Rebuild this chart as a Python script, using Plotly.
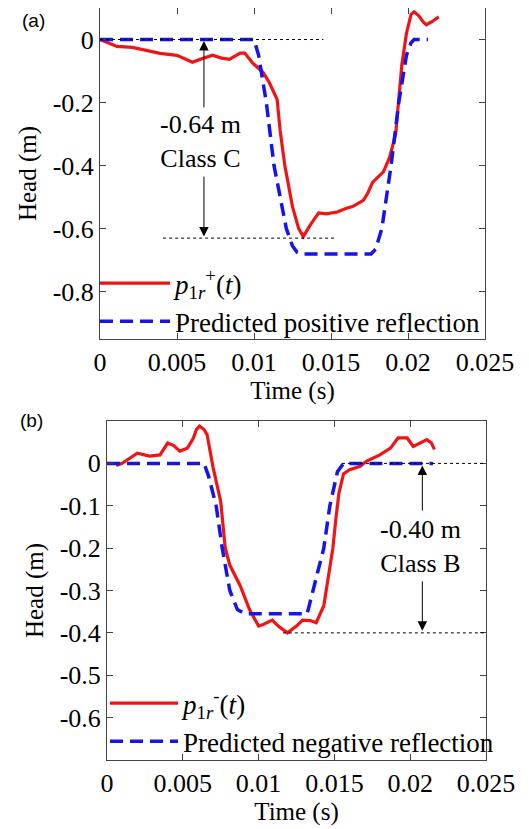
import plotly.graph_objects as go

# (a) positive reflection
t_meas_a = [0, 0.0011, 0.0021, 0.0030, 0.0039, 0.0050, 0.0060, 0.0065, 0.0073, 0.0079, 0.0084,
            0.0091, 0.0094, 0.0099, 0.0106, 0.0110, 0.0115, 0.0117, 0.0120, 0.0125, 0.0129, 0.0132,
            0.0137, 0.0142, 0.0147, 0.0154, 0.0160, 0.0164, 0.0171, 0.0174, 0.0177, 0.0184, 0.0188,
            0.0192, 0.0194, 0.0196, 0.0199, 0.0202, 0.0204, 0.0207, 0.0210, 0.0212, 0.0216, 0.0220]
p_meas_a = [0, -0.022, -0.025, -0.035, -0.044, -0.050, -0.072, -0.063, -0.050, -0.059, -0.063,
            -0.043, -0.043, -0.074, -0.105, -0.137, -0.19, -0.29, -0.40, -0.53, -0.60, -0.625,
            -0.585, -0.55, -0.553, -0.547, -0.535, -0.53, -0.51, -0.486, -0.453, -0.42, -0.375,
            -0.30, -0.18, -0.08, 0.02, 0.08, 0.088, 0.075, 0.055, 0.047, 0.058, 0.072]
t_pred_a = [0, 0.0100, 0.0103, 0.0108, 0.0113, 0.0117, 0.0121, 0.0125, 0.0128, 0.0131,
            0.0176, 0.0179, 0.0183, 0.0189, 0.0194, 0.0199, 0.0202, 0.0204, 0.0213]
p_pred_a = [0, 0, -0.05, -0.2, -0.4, -0.5, -0.6, -0.655, -0.675, -0.68,
            -0.68, -0.665, -0.6, -0.4, -0.2, -0.05, -0.01, 0, 0]

# (b) negative reflection
t_meas_b = [0.0006, 0.0010, 0.0015, 0.0020, 0.0028, 0.0035, 0.0040, 0.0044, 0.0048, 0.0053, 0.0057,
            0.0059, 0.0061, 0.0064, 0.0066, 0.0070, 0.0075, 0.0078, 0.0081, 0.0088, 0.0094, 0.0100,
            0.0103, 0.0109, 0.0113, 0.0119, 0.0125, 0.0129, 0.0134, 0.0138, 0.0143, 0.0146, 0.0149,
            0.0151, 0.0153, 0.0156, 0.0160, 0.0167, 0.0171, 0.0180, 0.0187, 0.0192, 0.0198, 0.0202,
            0.0208, 0.0211, 0.0214, 0.0216]
p_meas_b = [-0.005, 0.0, 0.012, 0.024, 0.017, 0.020, 0.048, 0.042, 0.029, 0.036, 0.060,
            0.080, 0.088, 0.080, 0.068, -0.010, -0.090, -0.20, -0.24, -0.29, -0.345, -0.384,
            -0.38, -0.37, -0.384, -0.40, -0.384, -0.37, -0.371, -0.376, -0.336, -0.265, -0.20,
            -0.13, -0.07, -0.025, -0.015, -0.007, 0.005, 0.020, 0.036, 0.060, 0.060, 0.040,
            0.052, 0.056, 0.048, 0.033]
t_pred_b = [0, 0.0064, 0.0067, 0.0072, 0.0076, 0.0081, 0.0086, 0.0091, 0.0132, 0.0136,
            0.0143, 0.0147, 0.0152, 0.0156, 0.0215]
p_pred_b = [0, 0, -0.03, -0.1, -0.2, -0.3, -0.345, -0.355, -0.355, -0.3,
            -0.2, -0.1, -0.02, 0, 0]

x_ticks = [0, 0.005, 0.01, 0.015, 0.02, 0.025]
x_ticklabels = ['0', '0.005', '0.01', '0.015', '0.02', '0.025']
y_ticks_a = [0, -0.2, -0.4, -0.6, -0.8]
y_ticks_b = [0, -0.1, -0.2, -0.3, -0.4, -0.5, -0.6]

# the page body has an 8px margin, so the figure is a bit smaller than the window
OFF = 8
W, H = 529 - OFF, 829 - OFF


def fx(px):
    return (px - OFF) / W


def fy(py):
    return min(1.0, 1 - (py - OFF) / H)


RED = 'rgb(240,20,20)'
BLUE = 'rgb(20,20,235)'
SERIF = 'Liberation Serif'

fig = go.Figure()
fig.add_trace(go.Scatter(x=t_meas_a, y=p_meas_a, mode='lines', line=dict(color=RED, width=3.2),
                         name='<i>p</i><sub>1<i>r</i></sub><sup>+</sup>(<i>t</i>)',
                         xaxis='x', yaxis='y', legend='legend', legendgroup='a1'))
fig.add_trace(go.Scatter(x=t_pred_a, y=p_pred_a, mode='lines',
                         line=dict(color=BLUE, width=3.5, dash='13px,7px'),
                         name='Predicted positive reflection',
                         xaxis='x', yaxis='y', legend='legend', legendgroup='a2'))
fig.add_trace(go.Scatter(x=t_meas_b, y=p_meas_b, mode='lines', line=dict(color=RED, width=3.2),
                         name='<i>p</i><sub>1<i>r</i></sub><sup>-</sup>(<i>t</i>)',
                         xaxis='x2', yaxis='y2', legend='legend2', legendgroup='b1'))
fig.add_trace(go.Scatter(x=t_pred_b, y=p_pred_b, mode='lines',
                         line=dict(color=BLUE, width=3.5, dash='13px,7px'),
                         name='Predicted negative reflection',
                         xaxis='x2', yaxis='y2', legend='legend2', legendgroup='b2'))

axis_common = dict(showline=True, linecolor='#444', linewidth=1, mirror='ticks',
                   ticks='inside', ticklen=6, tickcolor='#444', showgrid=False, zeroline=False,
                   tickfont=dict(family=SERIF, size=26, color='black'))
title_font = dict(family=SERIF, size=25, color='black')

fig.update_layout(
    xaxis=dict(domain=[fx(100), fx(485)], anchor='y', range=[0, 0.025], tickvals=x_ticks,
               ticktext=x_ticklabels, title=dict(text='Time (s)', font=title_font, standoff=2),
               **axis_common),
    yaxis=dict(domain=[fy(339), fy(7)], anchor='x', range=[-0.95, 0.1], tickvals=y_ticks_a,
               ticktext=['0', '-0.2', '-0.4', '-0.6', '-0.8'],
               title=dict(text='Head (m)', font=title_font, standoff=8),
               **axis_common),
    xaxis2=dict(domain=[fx(107), fx(486)], anchor='y2', range=[0, 0.025], tickvals=x_ticks,
                ticktext=x_ticklabels, title=dict(text='Time (s)', font=title_font, standoff=2),
                **axis_common),
    yaxis2=dict(domain=[fy(760), fy(421)], anchor='x2', range=[-0.7, 0.1], tickvals=y_ticks_b,
                ticktext=['0', '-0.1', '-0.2', '-0.3', '-0.4', '-0.5', '-0.6'],
                title=dict(text='Head (m)', font=title_font, standoff=8),
                **axis_common),
    legend=dict(x=fx(95), y=fy(259), xanchor='left', yanchor='top', bgcolor='rgba(0,0,0,0)',
                font=dict(family=SERIF, size=27, color='black'), itemwidth=70,
                traceorder='grouped', tracegroupgap=0),
    legend2=dict(x=fx(105), y=fy(679), xanchor='left', yanchor='top', bgcolor='rgba(0,0,0,0)',
                 font=dict(family=SERIF, size=27, color='black'), itemwidth=68,
                 traceorder='grouped', tracegroupgap=0),
    width=W, height=H, margin=dict(l=0, r=0, t=0, b=0, autoexpand=False),
    paper_bgcolor='white', plot_bgcolor='white',
)

dot = dict(color='black', width=1, dash='3px,3px')
fig.add_shape(type='line', xref='x', yref='y', x0=0, x1=0.0145, y0=0, y1=0, line=dot)
fig.add_shape(type='line', xref='x', yref='y', x0=0.0041, x1=0.0153, y0=-0.63, y1=-0.63, line=dot)
fig.add_shape(type='line', xref='x2', yref='y2', x0=0.0155, x1=0.025, y0=0, y1=0, line=dot)
fig.add_shape(type='line', xref='x2', yref='y2', x0=0.0116, x1=0.025, y0=-0.4, y1=-0.4, line=dot)

arrow = dict(text='', showarrow=True, arrowhead=2, arrowsize=1.9, arrowwidth=1, arrowcolor='black')
fig.add_annotation(x=0.00675, y=-0.005, ax=0.00675, ay=-0.22, xref='x', yref='y', axref='x', ayref='y', **arrow)
fig.add_annotation(x=0.00675, y=-0.625, ax=0.00675, ay=-0.43, xref='x', yref='y', axref='x', ayref='y', **arrow)
fig.add_annotation(x=0.0208, y=-0.005, ax=0.0208, ay=-0.115, xref='x2', yref='y2', axref='x2', ayref='y2', **arrow)
fig.add_annotation(x=0.0208, y=-0.395, ax=0.0208, ay=-0.275, xref='x2', yref='y2', axref='x2', ayref='y2', **arrow)

txt = dict(family=SERIF, size=26, color='black')
fig.add_annotation(x=0.0065, y=-0.325, xref='x', yref='y', text='-0.64 m<br>Class C',
                   showarrow=False, font=txt)
fig.add_annotation(x=0.0207, y=-0.197, xref='x2', yref='y2', text='-0.40 m<br>Class B',
                   showarrow=False, font=txt)

lab = dict(family='Liberation Sans', size=19, color='black')
fig.add_annotation(x=fx(33), y=fy(21), xref='paper', yref='paper', text='(a)', showarrow=False,
                   xanchor='center', yanchor='middle', font=lab)
fig.add_annotation(x=fx(31), y=fy(421), xref='paper', yref='paper', text='(b)', showarrow=False,
                   xanchor='center', yanchor='middle', font=lab)

fig.write_html("out.html")
